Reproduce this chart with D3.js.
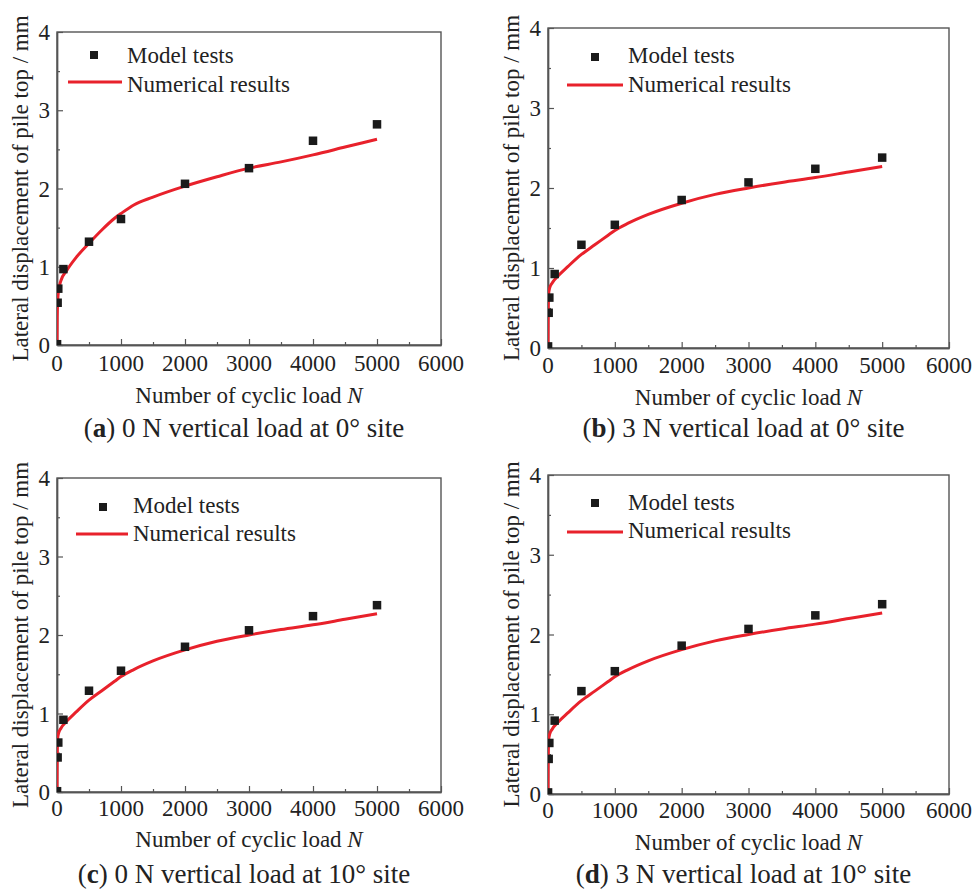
<!DOCTYPE html>
<html>
<head>
<meta charset="utf-8">
<script src="https://cdn.jsdelivr.net/npm/d3@7.9.0/dist/d3.min.js"></script>
</head>
<body style="margin:0;background:#fff">
<script>
// tick values
const xTicks = [0, 1000, 2000, 3000, 4000, 5000, 6000];
const xMinor = [500, 1500, 2500, 3500, 4500, 5500];
const yTicks = [0, 1, 2, 3, 4];
const yMinor = [0.5, 1.5, 2.5, 3.5];

// model tests (squares)
const testN = [1, 10, 20, 100, 500, 1000, 2000, 3000, 4000, 5000];
const testA = [0.01, 0.54, 0.72, 0.97, 1.32, 1.61, 2.06, 2.26, 2.61, 2.82];
const testB = [0.02, 0.44, 0.63, 0.925, 1.29, 1.54, 1.85, 2.07, 2.24, 2.38];
const testC = [0.01, 0.44, 0.63, 0.92, 1.29, 1.545, 1.85, 2.06, 2.24, 2.38];
const testD = [0.02, 0.44, 0.64, 0.92, 1.29, 1.54, 1.86, 2.07, 2.24, 2.38];

// numerical results (red curve)
const numN = [0, 3, 10, 25, 60, 150, 300, 500, 700, 900, 1000, 1200, 1500, 2000, 2500, 3000, 3500, 4000, 4500, 5000];
const numA = [0, 0.35, 0.55, 0.7, 0.82, 0.95, 1.12, 1.3, 1.47, 1.62, 1.68, 1.79, 1.89, 2.03, 2.15, 2.26, 2.34, 2.43, 2.53, 2.63];
const numB = [0, 0.45, 0.68, 0.75, 0.81, 0.9, 1.02, 1.17, 1.29, 1.41, 1.47, 1.56, 1.67, 1.81, 1.92, 2.0, 2.07, 2.13, 2.2, 2.27];
const numC = [0, 0.45, 0.68, 0.75, 0.81, 0.9, 1.02, 1.17, 1.29, 1.41, 1.47, 1.56, 1.67, 1.81, 1.92, 2.0, 2.07, 2.13, 2.2, 2.27];
const numD = [0, 0.45, 0.68, 0.75, 0.81, 0.9, 1.02, 1.17, 1.29, 1.41, 1.47, 1.56, 1.67, 1.81, 1.92, 2.0, 2.07, 2.13, 2.2, 2.27];

const captionLetters = ["a", "b", "c", "d"];
const captionTexts = [" 0 N vertical load at 0° site", " 3 N vertical load at 0° site",
                      " 0 N vertical load at 10° site", " 3 N vertical load at 10° site"];
const legendLabels = ["Model tests", "Numerical results"];

const red = "#e8212b";
const axisColor = "#555";
const ink = "#222";
const serif = "Liberation Serif";

// plot boxes, legend offsets and text offsets for each panel
const panels = [
  { left: 57, top: 32, right: 441, bottom: 345, test: testA, num: numA,
    leg: { sx: 37, sy: 23, tx: 70, ty0: 31, ty1: 60, lx0: 11, lx1: 65, ly: 50 }, tickY: 26, titleY: 58, capY: 92 },
  { left: 548, top: 28, right: 949, bottom: 348, test: testB, num: numB,
    leg: { sx: 47, sy: 29, tx: 80, ty0: 35, ty1: 64, lx0: 19, lx1: 75, ly: 57 }, tickY: 25, titleY: 57, capY: 89 },
  { left: 57, top: 478, right: 441, bottom: 792, test: testC, num: numC,
    leg: { sx: 46, sy: 29, tx: 76, ty0: 35, ty1: 63, lx0: 19, lx1: 71, ly: 56 }, tickY: 24, titleY: 55, capY: 91 },
  { left: 548, top: 475, right: 949, bottom: 794, test: testD, num: numD,
    leg: { sx: 47, sy: 28, tx: 80, ty0: 35, ty1: 63, lx0: 19, lx1: 75, ly: 57 }, tickY: 24, titleY: 56, capY: 89 }
];

const svg = d3.select("body").append("svg")
  .attr("width", 975).attr("height", 892)
  .style("display", "block");

function addText(xp, yp, size, anchor) {
  return svg.append("text")
    .attr("x", xp).attr("y", yp)
    .attr("text-anchor", anchor)
    .attr("fill", ink)
    .attr("font-size", size)
    .style("font-family", serif);
}

panels.forEach((p, i) => {
  const g = svg.append("g");

  const x = d3.scaleLinear().domain([0, 6000]).range([p.left, p.right]);
  const y = d3.scaleLinear().domain([0, 4]).range([p.bottom, p.top]);

  const clipId = `clip-${i}`;
  g.append("clipPath").attr("id", clipId)
    .append("rect")
    .attr("x", p.left).attr("y", p.top - 5)
    .attr("width", p.right - p.left).attr("height", p.bottom - p.top + 5);

  // frame
  g.append("rect")
    .attr("x", p.left).attr("y", p.top)
    .attr("width", p.right - p.left).attr("height", p.bottom - p.top)
    .attr("fill", "none")
    .attr("stroke", axisColor)
    .attr("stroke-width", 1.4);

  // inward ticks
  g.append("g").attr("transform", `translate(0,${p.bottom})`)
    .call(d3.axisBottom(x).tickValues(xTicks).tickSizeInner(-6).tickSizeOuter(0).tickFormat(""));
  g.append("g").attr("transform", `translate(0,${p.bottom})`)
    .call(d3.axisBottom(x).tickValues(xMinor).tickSizeInner(-3).tickSizeOuter(0).tickFormat(""));
  g.append("g").attr("transform", `translate(${p.left},0)`)
    .call(d3.axisLeft(y).tickValues(yTicks).tickSizeInner(-6).tickSizeOuter(0).tickFormat(""));
  g.append("g").attr("transform", `translate(${p.left},0)`)
    .call(d3.axisLeft(y).tickValues(yMinor).tickSizeInner(-3).tickSizeOuter(0).tickFormat(""));

  g.selectAll(".domain").attr("stroke", axisColor).attr("stroke-width", 1.4);
  g.selectAll(".tick line").attr("stroke", axisColor).attr("stroke-width", 1.2);
  g.selectAll(".tick text").remove();

  xTicks.forEach(t => addText(x(t), p.bottom + p.tickY, 23, "middle").text(t));
  yTicks.forEach(t => addText(p.left - 7, y(t) + 8, 23, "end").text(t));

  // data
  const plot = g.append("g").attr("clip-path", `url(#${clipId})`);

  plot.append("path")
    .datum(numN.map((n, k) => [n, p.num[k]]))
    .attr("fill", "none")
    .attr("stroke", red)
    .attr("stroke-width", 3)
    .attr("stroke-linejoin", "round")
    .attr("d", d3.line().x(d => x(d[0])).y(d => y(d[1])).curve(d3.curveMonotoneX));

  const sq = 8.5;
  plot.selectAll("rect.pt")
    .data(testN.map((n, k) => [n, p.test[k]]))
    .join("rect")
    .attr("class", "pt")
    .attr("x", d => x(d[0]) - sq / 2)
    .attr("y", d => y(d[1]) - sq / 2)
    .attr("width", sq)
    .attr("height", sq)
    .attr("fill", "#1a1a1a");

  // legend
  const L = p.leg;
  g.append("rect")
    .attr("x", p.left + L.sx - 4).attr("y", p.top + L.sy - 4)
    .attr("width", 8).attr("height", 8)
    .attr("fill", "#1a1a1a");
  g.append("line")
    .attr("x1", p.left + L.lx0).attr("x2", p.left + L.lx1)
    .attr("y1", p.top + L.ly).attr("y2", p.top + L.ly)
    .attr("stroke", red).attr("stroke-width", 3);
  addText(p.left + L.tx, p.top + L.ty0, 23, "start").text(legendLabels[0]);
  addText(p.left + L.tx, p.top + L.ty1, 23, "start").text(legendLabels[1]);

  // axis titles
  const cx = (p.left + p.right) / 2;
  const xt = addText(cx, p.bottom + p.titleY, 23, "middle");
  xt.append("tspan").text("Number of cyclic load ");
  xt.append("tspan").style("font-style", "italic").text("N");

  addText(0, 0, 23, "middle")
    .attr("transform", `translate(${p.left - 29},${(p.top + p.bottom) / 2}) rotate(-90)`)
    .text("Lateral displacement of pile top / mm");

  // caption
  const cap = addText(cx - 5, p.bottom + p.capY, 27, "middle");
  cap.append("tspan").text("(");
  cap.append("tspan").style("font-weight", "bold").text(captionLetters[i]);
  cap.append("tspan").text(")" + captionTexts[i]);
});
</script>
</body>
</html>
